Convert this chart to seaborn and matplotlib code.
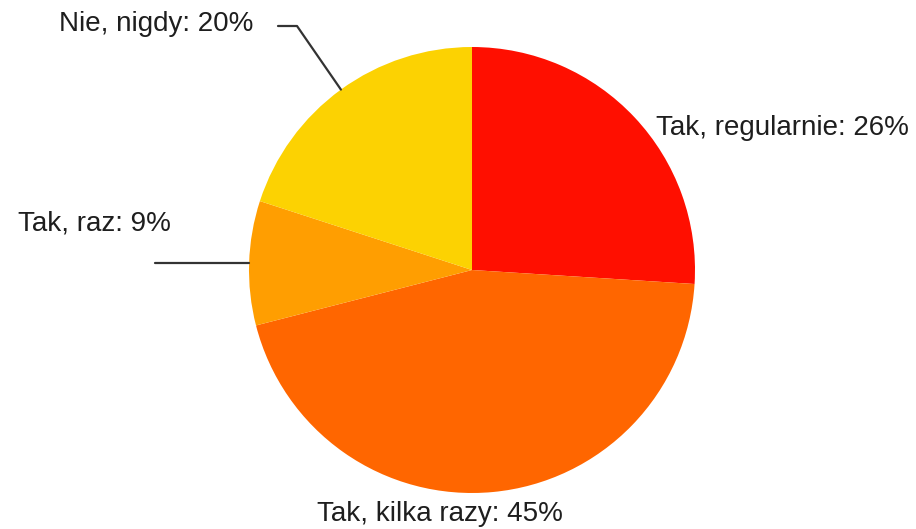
import numpy as np
import seaborn as sns
import matplotlib.pyplot as plt

categories = ["Tak, regularnie", "Tak, kilka razy", "Tak, raz", "Nie, nigdy"]
values = [26, 45, 9, 20]
colors = ["#FF0F00", "#FF6600", "#FF9E01", "#FCD202"]

sns.set_theme(style="white")
plt.rcParams["font.family"] = ["Liberation Sans", "DejaVu Sans"]

W, H = 916, 529
fig = plt.figure(figsize=(W / 100, H / 100), dpi=100)
ax = fig.add_axes([0, 0, 1, 1])

cx, cy, r = 472, H - 270, 223
wedges, _ = ax.pie(values, colors=colors, startangle=90, counterclock=False,
                   center=(cx, cy), radius=r, frame=True,
                   wedgeprops=dict(linewidth=0))
ax.set_xlim(0, W)
ax.set_ylim(0, H)
ax.set_aspect("equal")
ax.axis("off")

fs = 20
tc = "#1e1e1e"
lbl = [f"{c}: {v}%" for c, v in zip(categories, values)]
mids = [np.deg2rad((w.theta1 + w.theta2) / 2) for w in wedges]

# Tak, regularnie - no leader
ax.text(656, H - 128, lbl[0], fontsize=fs, color=tc, ha="left", va="center")
# Tak, kilka razy
ax.text(440, H - 514, lbl[1], fontsize=fs, color=tc, ha="center", va="center")
# Tak, raz
ex, ey = cx + r * np.cos(mids[2]), cy + r * np.sin(mids[2])
ax.plot([ex, 155], [ey, ey], color="#333333", lw=1.6)
ax.text(18, H - 224, lbl[2], fontsize=fs, color=tc, ha="left", va="center")
# Nie, nigdy
ex, ey = cx + r * np.cos(mids[3]), cy + r * np.sin(mids[3])
ax.plot([ex, 297, 278], [ey, H - 26, H - 26], color="#333333", lw=1.6)
ax.text(253, H - 24, lbl[3], fontsize=fs, color=tc, ha="right", va="center")

fig.savefig("out.png", dpi=100)
